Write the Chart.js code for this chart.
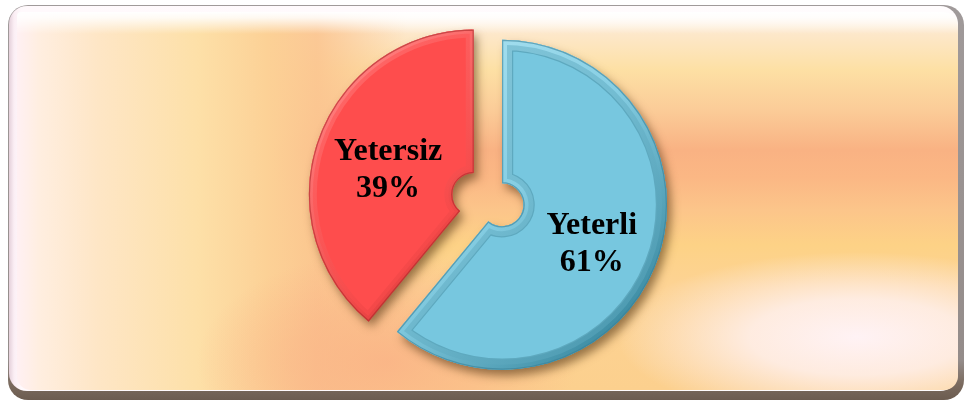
<!DOCTYPE html>
<html><head><meta charset="utf-8">
<script src="https://cdn.jsdelivr.net/npm/chart.js@4"></script>
<style>
html,body{margin:0;padding:0;width:965px;height:403px;overflow:hidden;background:#fff;}
#wrap{position:relative;width:965px;height:403px;}
.frame{position:absolute;left:8px;top:5px;width:956px;height:395px;border-radius:20px;
  background:linear-gradient(to bottom,#a09a9a 0%,#948c8a 90%,#7a6a5e 96%,#6c5c50 100%);}
.rim{position:absolute;left:9px;top:6px;width:949px;height:385px;border-radius:18px;
  background:linear-gradient(to right,#e4d0da 0,#fbeef4 5px,#fff9fc 12px,#fffcfd 100%);}
.face{position:absolute;left:17px;top:12px;width:941px;height:378px;border-radius:4px 14px 14px 14px;
  background:
   linear-gradient(to bottom,#fff 0px,rgba(255,255,255,0.85) 6px,rgba(255,255,255,0) 22px),
   radial-gradient(ellipse 240px 85px at 840px 325px,rgba(255,244,250,0.95) 0%,rgba(255,244,250,0.75) 45%,rgba(255,244,250,0) 100%),
   radial-gradient(ellipse 190px 110px at 370px 350px,rgba(250,178,134,0.85) 0%,rgba(250,178,134,0.5) 50%,rgba(250,178,134,0) 100%),
   linear-gradient(to right,rgba(255,240,243,1) 0px,#ffeee0 22px,#fee6c6 80px,#fde0a8 180px,#fcd196 250px,rgba(251,197,144,0.9) 300px,rgba(251,197,144,0) 390px),
   linear-gradient(to bottom,#fff4e8 0px,#fde8cc 20px,#fde0a4 58px,#fbcc98 98px,#f9b283 138px,#fbb784 165px,#fcc58a 198px,#fdd286 233px,#fdd394 275px,#fcd08e 378px);}
canvas{position:absolute;left:0;top:0;}
</style>
</head>
<body>
<div id="wrap">
  <div class="frame"></div>
  <div class="rim"></div>
  <div class="face"></div>
  <canvas id="c" width="965" height="403"></canvas>
</div>
<script>
const categories = ['Yeterli', 'Yetersiz'];
const percentages = [61, 39];

// geometry of an arc as Chart.js draws it (translate by offset/4, radii grown by offset/4*fix)
function arcGeom(arc){
  const p = arc.getProps(['x','y','startAngle','endAngle','innerRadius','outerRadius','circumference'], true);
  const off = (arc.options.offset || 0) / 4;
  const half = (p.startAngle + p.endAngle) / 2;
  const fix = 1 - Math.sin(Math.min(Math.PI, p.circumference || 0));
  const ro = off * fix;
  return {cx: p.x + Math.cos(half) * off, cy: p.y + Math.sin(half) * off, s: p.startAngle, e: p.endAngle,
          ri: p.innerRadius > 0 ? p.innerRadius + ro : 0, ro: p.outerRadius + ro, half: half};
}
function pathArc(ctx, g){
  ctx.beginPath();
  ctx.arc(g.cx, g.cy, g.ro, g.s, g.e);
  ctx.arc(g.cx, g.cy, g.ri, g.e, g.s, true);
  ctx.closePath();
}
const bevels = [
  {light:'#b0e6f5', mid:'#88d0e5', dark:'#3f8ea5', line:'#5ea9bf', edge:'#3a8198', bw:10},
  {light:'#ff7c7c', mid:'#ee4646', dark:'#982222', line:null, edge:'#a82a2a', bw:8}
];
const shadowPlugin = {
  id:'shadow',
  beforeDatasetDraw(chart){
    const ctx = chart.ctx;
    ctx.save();
    ctx.shadowColor = 'rgba(70,40,10,0.55)';
    ctx.shadowBlur = 10;
    ctx.shadowOffsetX = 4;
    ctx.shadowOffsetY = 6;
  },
  afterDatasetDraw(chart, args){
    const ctx = chart.ctx;
    ctx.restore();
    args.meta.data.forEach((arc, i) => {
      const g = arcGeom(arc);
      const b = bevels[i];
      ctx.save();
      pathArc(ctx, g);
      ctx.clip();
      const grad = ctx.createLinearGradient(g.cx - g.ro*0.7, g.cy - g.ro*0.7, g.cx + g.ro*0.7, g.cy + g.ro*0.7);
      grad.addColorStop(0, b.light);
      grad.addColorStop(0.5, b.mid);
      grad.addColorStop(1, b.dark);
      if (b.line){
        ctx.lineWidth = 2*(b.bw + 1.2);
        ctx.strokeStyle = b.line;
        pathArc(ctx, g); ctx.stroke();
      }
      ctx.globalAlpha = 0.5;
      ctx.lineWidth = 2*b.bw;
      ctx.strokeStyle = grad;
      pathArc(ctx, g); ctx.stroke();
      ctx.globalAlpha = 0.9;
      ctx.lineWidth = b.bw;
      pathArc(ctx, g); ctx.stroke();
      ctx.lineWidth = 2.5;
      ctx.strokeStyle = b.edge;
      ctx.globalAlpha = 0.6;
      pathArc(ctx, g); ctx.stroke();
      ctx.restore();
    });
  }
};
const labelPlugin = {
  id:'labels',
  afterDraw(chart){
    const ctx = chart.ctx;
    const meta = chart.getDatasetMeta(0);
    meta.data.forEach((arc, i) => {
      const g = arcGeom(arc);
      const r = (g.ri + g.ro) / 2;
      const x = g.cx + Math.cos(g.half) * r + 2;
      const y = g.cy + Math.sin(g.half) * r + 7;
      ctx.save();
      ctx.font = 'bold 32px "Liberation Serif", "Times New Roman", serif';
      ctx.fillStyle = '#000';
      ctx.textAlign = 'center';
      ctx.textBaseline = 'middle';
      ctx.fillText(chart.data.labels[i], x, y - 18);
      ctx.fillText(chart.data.datasets[0].data[i] + '%', x, y + 19);
      ctx.restore();
    });
  }
};
new Chart(document.getElementById('c'), {
  type:'doughnut',
  data:{
    labels: categories,
    datasets:[{
      data: percentages,
      backgroundColor:['#77C7DF','#FE4D4D'],
      borderWidth:0,
      offset:[32,88]
    }]
  },
  options:{
    responsive:false,
    animation:false,
    radius:157,
    cutout:'8.6%',
    layout:{padding:{left:24, top:1}},
    plugins:{legend:{display:false}, tooltip:{enabled:false}}
  },
  plugins:[shadowPlugin, labelPlugin]
});
</script>
</body></html>
